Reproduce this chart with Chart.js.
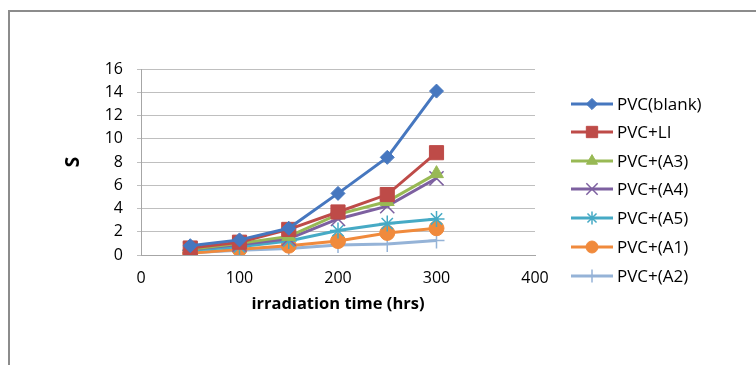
<!DOCTYPE html>
<html>
<head>
<meta charset="utf-8">
<script src="https://cdn.jsdelivr.net/npm/chart.js@4/dist/chart.umd.min.js"></script>
<style>
	html, body { margin: 0; padding: 0; background: #fff; overflow: hidden; }
	#wrap { position: relative; width: 756px; height: 365px; }
	#frame {
		position: absolute; left: 8px; top: 10px; width: 800px; height: 400px;
		border-left: 2px solid #8c8c8c; border-top: 2px solid #8c8c8c;
	}
	#chart { position: absolute; left: 0; top: 0; }
</style>
</head>
<body>
<div id="wrap">
	<div id="frame"></div>
	<canvas id="chart" width="756" height="365"></canvas>
</div>
<script>
/* irradiation times (hrs) */
var hours = [50, 100, 150, 200, 250, 300];

/* S values */
var blank = [0.8, 1.3, 2.3, 5.3, 8.4, 14.1];
var li    = [0.6, 1.1, 2.2, 3.7, 5.2, 8.8];
var a3    = [0.5, 1.0, 1.6, 3.5, 4.6, 7.0];
var a4    = [0.5, 0.9, 1.4, 3.1, 4.2, 6.6];
var a5    = [0.4, 0.7, 1.2, 2.1, 2.7, 3.1];
var a1    = [0.15, 0.5, 0.8, 1.2, 1.9, 2.3];
var a2    = [0.2, 0.4, 0.55, 0.85, 0.95, 1.25];

var seriesNames = ['PVC(blank)', 'PVC+LI', 'PVC+(A3)', 'PVC+(A4)', 'PVC+(A5)', 'PVC+(A1)', 'PVC+(A2)'];
var seriesData = [blank, li, a3, a4, a5, a1, a2];
var colors = ['#4677BF', '#BE4B48', '#98B954', '#7D60A0', '#46AAC5', '#F08A3C', '#95B3D7'];
var markers = ['rectRot', 'rect', 'triangle', 'crossRot', 'star', 'circle', 'cross'];
var radii = [7, 10, 8, 10, 8, 7.5, 8];
var markerBorder = [1, 1, 1, 1.5, 1.5, 1, 1.5];

var fontFamily = '"Open Sans", "DejaVu Sans", sans-serif';

function toPoints(ys) {
	var pts = [];
	for (var i = 0; i < hours.length; i++) {
		pts.push({x: hours[i], y: ys[i]});
	}
	return pts;
}

var datasets = [];
for (var i = 0; i < seriesNames.length; i++) {
	datasets.push({
		label: seriesNames[i],
		data: toPoints(seriesData[i]),
		borderColor: colors[i],
		backgroundColor: colors[i],
		borderWidth: 3,
		pointStyle: markers[i],
		pointRadius: radii[i],
		pointBorderWidth: markerBorder[i],
		pointHoverRadius: radii[i],
		tension: 0
	});
}

/* Excel-style legend: line with marker, then label */
var sideLegend = {
	id: 'sideLegend',
	afterDraw: function(chart) {
		var ctx = chart.ctx;
		var rowY = [104, 132, 161, 189, 218, 247, 276];
		ctx.save();
		ctx.font = '17px ' + fontFamily;
		ctx.textBaseline = 'middle';
		ctx.textAlign = 'left';
		for (var i = 0; i < datasets.length; i++) {
			var y = rowY[i];
			ctx.strokeStyle = colors[i];
			ctx.lineWidth = 3;
			ctx.beginPath();
			ctx.moveTo(571, y);
			ctx.lineTo(613, y);
			ctx.stroke();
			ctx.fillStyle = colors[i];
			ctx.strokeStyle = colors[i];
			ctx.lineWidth = markerBorder[i];
			Chart.helpers.drawPoint(ctx, {pointStyle: markers[i], radius: radii[i] * 0.8, borderWidth: markerBorder[i], rotation: 0}, 592, y);
			ctx.fillStyle = '#000';
			ctx.fillText(seriesNames[i], 617, y + 1);
		}
		ctx.restore();
	}
};

const myChart = document.getElementById('chart').getContext('2d');

let chart1 = new Chart(myChart, {
	type: 'line',
	data: {
		datasets: datasets
	},
	options: {
		responsive: false,
		animation: false,
		layout: {
			padding: { left: 0, right: 221, top: 69, bottom: 51 }
		},
		plugins: {
			legend: { display: false },
			tooltip: { enabled: false }
		},
		scales: {
			x: {
				type: 'linear',
				min: 0,
				max: 400,
				ticks: {
					stepSize: 100,
					color: '#000',
					padding: 14,
					font: { family: fontFamily, size: 16 }
				},
				grid: { display: false, drawTicks: false },
				border: { display: true, color: '#a6a6a6', width: 1 },
				title: {
					display: true,
					text: 'irradiation time (hrs)',
					color: '#000',
					padding: { top: 4, bottom: 0 },
					font: { family: fontFamily, size: 16.5, weight: 'bold' }
				},
				afterFit: function(scale) { scale.height = 59; }
			},
			y: {
				min: 0,
				max: 16,
				ticks: {
					stepSize: 2,
					color: '#000',
					padding: 14,
					font: { family: fontFamily, size: 16 }
				},
				grid: { color: '#bfbfbf', lineWidth: 1, tickLength: 4 },
				border: { display: true, color: '#a6a6a6', width: 1 },
				title: {
					display: true,
					text: 'S',
					color: '#000',
					padding: { top: 62, bottom: 0 },
					font: { family: fontFamily, size: 19, weight: 'bold' }
				},
				afterFit: function(scale) { scale.width = 141; }
			}
		}
	},
	plugins: [sideLegend]
});
</script>
</body>
</html>
